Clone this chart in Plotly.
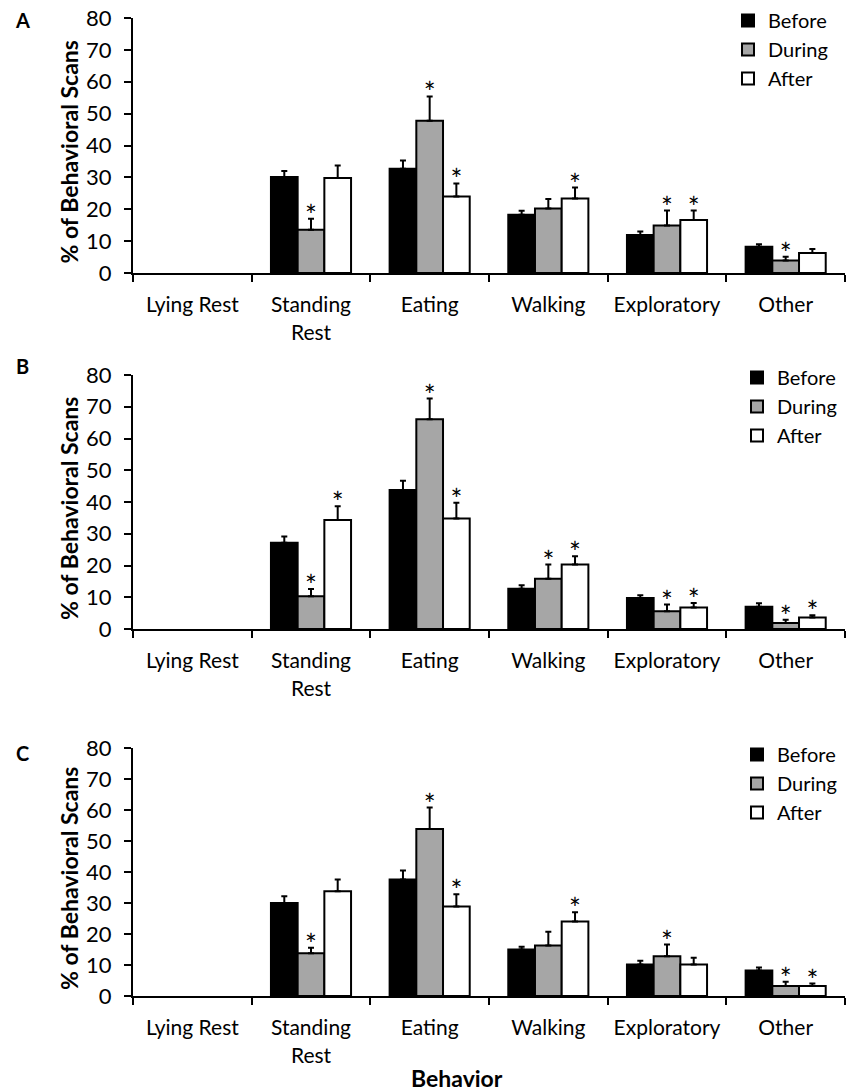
import plotly.graph_objects as go

# Behaviour categories shown on every panel
categories = ["Lying Rest", "Standing<br>Rest", "Eating", "Walking", "Exploratory", "Other"]
periods = ["Before", "During", "After"]

# Panel A: mean % of behavioural scans and upper SE
a_before = [0, 30.1, 32.7, 18.3, 11.9, 8.2]
a_during = [0, 13.6, 47.8, 20.2, 14.9, 3.9]
a_after = [0, 29.8, 24.0, 23.4, 16.6, 6.3]
a_before_se = [0, 1.9, 2.6, 1.2, 1.1, 0.8]
a_during_se = [0, 3.4, 7.6, 3.0, 4.7, 1.2]
a_after_se = [0, 3.9, 4.1, 3.4, 3.0, 1.2]
a_before_sig = [0, 0, 0, 0, 0, 0]
a_during_sig = [0, 1, 1, 0, 1, 1]
a_after_sig = [0, 0, 1, 1, 1, 0]

# Panel B
b_before = [0, 27.2, 43.8, 12.7, 9.8, 7.0]
b_during = [0, 10.3, 66.1, 15.8, 5.6, 1.9]
b_after = [0, 34.3, 34.8, 20.3, 6.8, 3.6]
b_before_se = [0, 1.9, 2.9, 1.1, 0.8, 1.1]
b_during_se = [0, 2.3, 6.5, 4.5, 2.1, 1.0]
b_after_se = [0, 4.4, 5.0, 2.6, 1.4, 0.7]
b_before_sig = [0, 0, 0, 0, 0, 0]
b_during_sig = [0, 1, 1, 1, 1, 1]
b_after_sig = [0, 1, 1, 1, 1, 1]

# Panel C
c_before = [0, 30.0, 37.6, 15.0, 10.2, 8.2]
c_during = [0, 13.8, 53.9, 16.3, 12.8, 3.2]
c_after = [0, 33.8, 28.9, 24.0, 10.2, 3.2]
c_before_se = [0, 2.2, 2.9, 0.9, 1.2, 1.0]
c_during_se = [0, 1.8, 6.9, 4.4, 3.8, 1.4]
c_after_se = [0, 3.8, 3.9, 3.0, 2.1, 0.8]
c_before_sig = [0, 0, 0, 0, 0, 0]
c_during_sig = [0, 1, 1, 0, 1, 1]
c_after_sig = [0, 0, 1, 1, 0, 1]

y_ticks = [0, 10, 20, 30, 40, 50, 60, 70, 80]

panels = [
    ("A", [a_before, a_during, a_after], [a_before_se, a_during_se, a_after_se],
     [a_before_sig, a_during_sig, a_after_sig]),
    ("B", [b_before, b_during, b_after], [b_before_se, b_during_se, b_after_se],
     [b_before_sig, b_during_sig, b_after_sig]),
    ("C", [c_before, c_during, c_after], [c_before_se, c_during_se, c_after_se],
     [c_before_sig, c_during_sig, c_after_sig]),
]

fills = {"Before": "#000000", "During": "#a6a6a6", "After": "#ffffff"}

W, H = 846, 1091
FONT = "Lato, 'Open Sans', sans-serif"

# pixel layout of each panel (top, bottom of plot area)
panel_px = [(18, 273), (375, 629), (748, 996)]
x_left, x_right = 133, 845
legend_top_px = [1, 358, 735]
legend_left_px = [728, 737, 737]
letter_y_px = [20, 366, 753]


def py(px):
    return 1 - px / H


fig = go.Figure()

for i, (letter, means, ses, sigs) in enumerate(panels):
    n = "" if i == 0 else str(i + 1)
    xa, ya = "x" + n, "y" + n
    leg = "legend" + n
    for name, vals, se, sig in zip(periods, means, ses, sigs):
        # a behaviour never observed (0 %) is left empty: no bar, no error bar
        shown = [v if v > 0 else None for v in vals]
        fig.add_trace(go.Bar(
            x=categories, y=shown, name=name, xaxis=xa, yaxis=ya,
            offsetgroup=name, legend=leg,
            marker=dict(color=fills[name], line=dict(color="#000000", width=2)),
            error_y=dict(type="data", array=se, arrayminus=[0] * len(se),
                         symmetric=False, color="#000000", thickness=2, width=3),
        ))
        # significance stars above the error bars
        tops = [v + e if s else None for v, e, s in zip(vals, se, sig)]
        fig.add_trace(go.Scatter(
            x=categories, y=tops, xaxis=xa, yaxis=ya, mode="text",
            text=["*"] * len(tops), textposition="middle center",
            textfont=dict(family=FONT, size=28, color="#000000"),
            offsetgroup=name, showlegend=False, hoverinfo="skip", cliponaxis=False,
        ))

    top, bot = panel_px[i]
    fig.layout["xaxis" + n] = dict(
        domain=[x_left / W, x_right / W], anchor=ya, type="category",
        range=[-0.5, 5.5], showline=True, linecolor="#000000", linewidth=2,
        ticks="outside", tickson="boundaries", ticklen=7, tickwidth=2,
        tickcolor="#000000", showgrid=False, zeroline=False,
        tickfont=dict(family=FONT, size=21, color="#000000"),
        ticklabelstandoff=12, automargin=False, fixedrange=True,
    )
    fig.layout["yaxis" + n] = dict(
        domain=[py(bot), py(top)], anchor=xa, range=[0, 80],
        tickvals=y_ticks, showline=True, linecolor="#000000", linewidth=2,
        ticks="outside", ticklen=7, tickwidth=2, tickcolor="#000000",
        showgrid=False, zeroline=False,
        tickfont=dict(family=FONT, size=22, color="#000000"),
        ticklabelstandoff=8, automargin=False, fixedrange=True,
    )
    fig.layout[leg] = dict(
        x=legend_left_px[i] / W, y=py(legend_top_px[i]), xanchor="left", yanchor="top",
        font=dict(family=FONT, size=20, color="#000000"),
        bgcolor="rgba(0,0,0,0)", tracegroupgap=0, itemsizing="constant",
    )
    fig.add_annotation(
        x=22 / W, y=py(letter_y_px[i]), xref="paper", yref="paper",
        text="<b>%s</b>" % letter, showarrow=False, xanchor="center", yanchor="middle",
        font=dict(family=FONT, size=20, color="#000000"),
    )
    fig.add_annotation(
        x=69 / W, y=py((top + bot) / 2 + 7), xref="paper", yref="paper",
        text="<b>% of Behavioral Scans</b>", textangle=-90, showarrow=False,
        xanchor="center", yanchor="middle",
        font=dict(family=FONT, size=23, color="#000000"),
    )

fig.add_annotation(
    x=457 / W, y=py(1078), xref="paper", yref="paper", text="<b>Behavior</b>",
    showarrow=False, xanchor="center", yanchor="middle",
    font=dict(family=FONT, size=23, color="#000000"),
)

fig.update_layout(
    width=W, height=H, margin=dict(l=0, r=0, t=0, b=0),
    paper_bgcolor="#ffffff", plot_bgcolor="#ffffff",
    barmode="group", bargap=0.325, bargroupgap=0,
    scattermode="group", scattergap=0.325,
    showlegend=True,
)

fig.write_html("out.html")
